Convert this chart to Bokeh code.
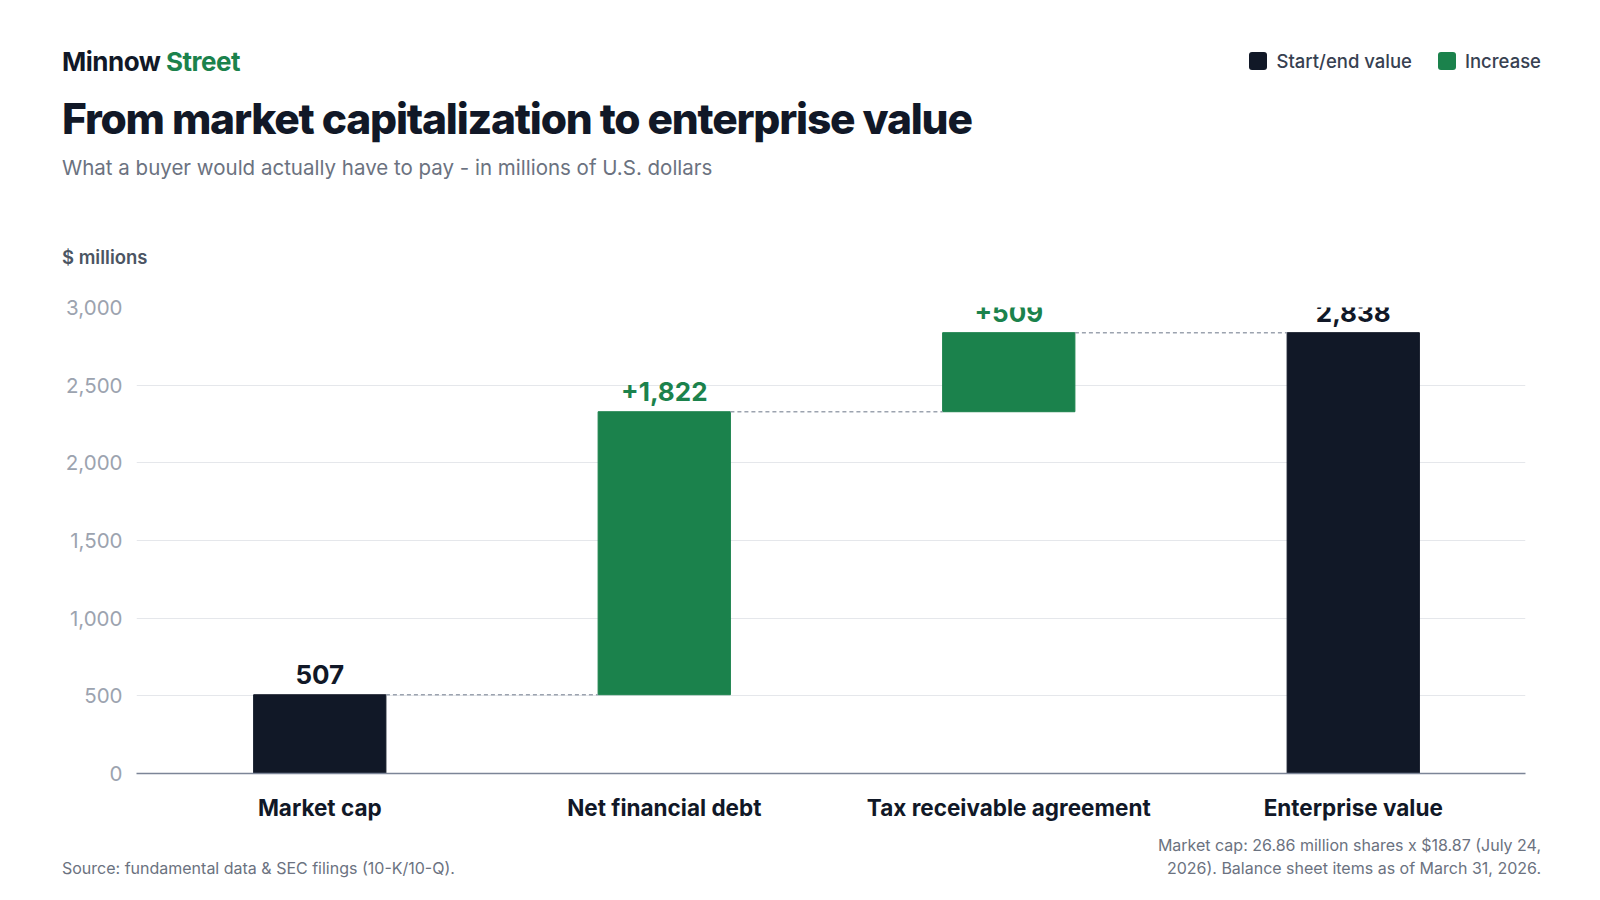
from bokeh.plotting import figure
from bokeh.models import Div, Range1d, ColumnDataSource, FixedTicker
from bokeh.layouts import column
from bokeh.core.properties import value
from bokeh.embed import file_html
from bokeh.resources import INLINE

categories = ["Market cap", "Net financial debt", "Tax receivable agreement", "Enterprise value"]
values = [507, 1822, 509, 2838]
kinds = ["total", "increase", "increase", "total"]
y_ticks = [0, 500, 1000, 1500, 2000, 2500, 3000]

DARK = "#111827"
GREEN = "#1b824c"
FONT = "Inter"

bottoms, tops, colors, labels, lcolors = [], [], [], [], []
run = 0
for v, k in zip(values, kinds):
    if k == "total":
        b, t = 0, v
        run = v
        colors.append(DARK); labels.append(f"{v:,}"); lcolors.append(DARK)
    else:
        b, t = run, run + v
        run = t
        colors.append(GREEN); labels.append(f"+{v:,}"); lcolors.append(GREEN)
    bottoms.append(b); tops.append(t)
xs = list(range(len(categories)))
src = ColumnDataSource(dict(x=xs, bottom=bottoms, top=tops, color=colors, label=labels, lcolor=lcolors))

W = 0.384
p = figure(width=1584, height=556, output_backend="svg", toolbar_location=None,
           x_range=Range1d(-0.532, 3.5), y_range=Range1d(0, 3000),
           min_border_left=136, min_border_right=59, min_border_top=35, min_border_bottom=55)
p.outline_line_color = None
p.background_fill_color = "white"

p.vbar(x="x", bottom="bottom", top="top", width=W, color="color", source=src)
p.text(x="x", y="top", text="label", text_color="lcolor", source=src, text_align="center",
       text_baseline="bottom", y_offset=-11, text_font=value(FONT), text_font_size="26px",
       text_font_style="bold")

cx0, cx1, cy = [], [], []
for i in range(len(xs) - 1):
    cx0.append(xs[i] + W / 2); cx1.append(xs[i + 1] - W / 2); cy.append(tops[i])
p.segment(x0=cx0, x1=cx1, y0=cy, y1=cy, line_color="#9ca3af", line_width=1.5, line_dash="4 3")

p.xaxis.ticker = FixedTicker(ticks=xs)
p.xaxis.major_label_overrides = {i: c for i, c in enumerate(categories)}
p.xaxis.major_label_text_font = FONT
p.xaxis.major_label_text_font_size = "22.5px"
p.xaxis.major_label_text_font_style = "bold"
p.xaxis.major_label_text_color = DARK
p.xaxis.major_tick_line_color = None
p.xaxis.minor_tick_line_color = None
p.xaxis.axis_line_color = "#7c8597"
p.xaxis.axis_line_width = 1.5
p.xaxis.major_label_standoff = 14
p.xgrid.grid_line_color = None

p.yaxis.ticker = FixedTicker(ticks=y_ticks)
p.yaxis.formatter.use_scientific = False
p.yaxis.major_label_overrides = {t: f"{t:,}" for t in y_ticks}
p.yaxis.major_label_text_font = FONT
p.yaxis.major_label_text_font_size = "20.5px"
p.yaxis.major_label_text_color = "#9ca3af"
p.yaxis.axis_line_color = None
p.yaxis.major_tick_line_color = None
p.yaxis.minor_tick_line_color = None
p.yaxis.major_label_standoff = 8
p.ygrid.grid_line_color = "#e5e7eb"

header = Div(width=1584, height=262, text=f"""
<div style="font-family:{FONT};position:relative;width:1584px;height:262px;">
 <div style="position:absolute;left:57px;top:38px;font-size:26px;font-weight:700;color:{DARK};letter-spacing:-0.5px;white-space:nowrap;">Minnow <span style="color:{GREEN}">Street</span></div>
 <div style="position:absolute;right:48px;top:43px;font-size:18.5px;font-weight:500;color:#374151;display:flex;align-items:center;white-space:nowrap;">
   <span style="display:inline-block;width:18px;height:18px;border-radius:3px;background:{DARK};margin-right:9px;"></span>Start/end value
   <span style="display:inline-block;width:18px;height:18px;border-radius:3px;background:{GREEN};margin:0 9px 0 26px;"></span>Increase
 </div>
 <div style="position:absolute;left:57px;top:84px;font-size:42.5px;font-weight:800;color:{DARK};letter-spacing:-1.2px;white-space:nowrap;">From market capitalization to enterprise value</div>
 <div style="position:absolute;left:57px;top:148px;font-size:20.5px;color:#6b7280;white-space:nowrap;">What a buyer would actually have to pay - in millions of U.S. dollars</div>
 <div style="position:absolute;left:57px;top:239px;font-size:18.5px;font-weight:600;color:#4b5563;white-space:nowrap;">$ millions</div>
</div>""")

footer = Div(width=1584, height=60, text=f"""
<div style="font-family:{FONT};position:relative;width:1584px;height:60px;font-size:16px;color:#6b7280;">
 <div style="position:absolute;left:57px;top:24px;line-height:23px;white-space:nowrap;">Source: fundamental data &amp; SEC filings (10-K/10-Q).</div>
 <div style="position:absolute;right:48px;top:1px;text-align:right;line-height:23px;white-space:nowrap;">Market cap: 26.86 million shares x $18.87 (July 24,<br>2026). Balance sheet items as of March 31, 2026.</div>
</div>""")

layout = column(header, p, footer, spacing=0)
open("out.html", "w").write(file_html(layout, INLINE))
